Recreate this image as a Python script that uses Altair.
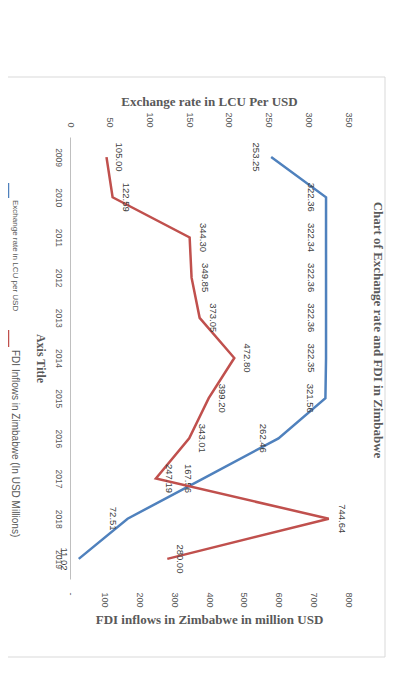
import altair as alt
import pandas as pd

years = [2009, 2010, 2011, 2012, 2013, 2014, 2015, 2016, 2017, 2018, 2019]
exchange_rate = [253.25, 322.36, 322.34, 322.36, 322.36, 322.35, 321.56, 262.46, 167.56, 72.51, 11.02]
fdi_inflows = [105.00, 122.59, 344.30, 349.85, 373.05, 472.80, 399.20, 343.01, 247.19, 744.64, 280.00]
exchange_ticks = [0, 50, 100, 150, 200, 250, 300, 350]
fdi_ticks = [0, 100, 200, 300, 400, 500, 600, 700, 800]

series_names = ["Exchange rate in LCU per USD", "FDI Inflows in Zimbabwe (In USD Millions)"]
series_colors = ["#4F81BD", "#C0504D"]
chart_title = "Chart of Exchange rate and FDI in Zimbabwe"
left_axis_title = "Exchange rate in LCU Per USD"
right_axis_title = "FDI inflows in Zimbabwe in million USD"
category_axis_title = "Axis Title"

df = pd.DataFrame({
    "year": [str(y) for y in years],
    "exchange": exchange_rate,
    "fdi": fdi_inflows,
})

W, H = 278, 442
SERIF = "Liberation Serif"
SANS = "Liberation Sans"
GRAY = "#595959"
LABEL = "#404040"

y_enc = alt.Y(
    "year:O", sort=None, scale=alt.Scale(padding=0.5),
    axis=alt.Axis(
        title=category_axis_title, labelAngle=90, labelAlign="center", labelBaseline="top",
        labelPadding=8, labelFont=SANS, labelFontSize=8.5, labelColor=GRAY,
        ticks=False, tickSize=0, domainColor="#BFBFBF", domainWidth=1, grid=False,
        titleAngle=90, titleX=-30, titleY=H / 2, titleAlign="center", titleBaseline="middle",
        titleFont=SERIF, titleFontSize=12, titleFontWeight="bold", titleColor=GRAY,
    ),
)

top_axis = alt.Axis(
    orient="top", values=exchange_ticks, labelAngle=90, labelAlign="right",
    labelBaseline="middle", labelPadding=10, labelFont=SANS, labelFontSize=9,
    labelColor=GRAY, labelFlush=False, ticks=False, tickSize=0, domain=False, grid=False,
    title=left_axis_title, titleFont=SERIF, titleFontSize=13, titleFontWeight="bold",
    titleColor=GRAY, titleX=W / 2, titleY=-36, titleAlign="center",
    titleBaseline="middle", titleAngle=0,
)
bottom_axis = alt.Axis(
    orient="bottom", values=fdi_ticks, labelAngle=90, labelAlign="left",
    labelBaseline="middle", labelPadding=13, labelFont=SANS, labelFontSize=9,
    labelColor=GRAY, labelFlush=False, labelExpr="datum.value == 0 ? '-' : datum.label",
    ticks=False, tickSize=0, domain=False, grid=False,
    title=right_axis_title, titleFont=SERIF, titleFontSize=13, titleFontWeight="bold",
    titleColor=GRAY, titleX=W / 2, titleY=40, titleAlign="center",
    titleBaseline="middle", titleAngle=0,
)

x_ex = alt.X("exchange:Q", scale=alt.Scale(domain=[0, 350], nice=False, zero=True), axis=top_axis)
x_fdi = alt.X("fdi:Q", scale=alt.Scale(domain=[0, 800], nice=False, zero=True), axis=bottom_axis)
order = alt.Order("year:O")

base = alt.Chart(df)

blue = alt.layer(
    base.mark_line(color=series_colors[0], strokeWidth=2.5).encode(x=x_ex, y=y_enc, order=order),
    base.mark_text(angle=90, dy=15, align="center", baseline="middle", font=SANS,
                   fontSize=9.5, color=LABEL).encode(
        x=x_ex, y=y_enc, text=alt.Text("exchange:Q", format=".2f")),
)
red = alt.layer(
    base.mark_line(color=series_colors[1], strokeWidth=2.5).encode(x=x_fdi, y=y_enc, order=order),
    base.mark_text(angle=90, dy=-13, align="center", baseline="middle", font=SANS,
                   fontSize=9.5, color=LABEL).encode(
        x=x_fdi, y=y_enc, text=alt.Text("fdi:Q", format=".2f")),
)

one = pd.DataFrame({"k": [0]})
annot = alt.Chart(one)

border = annot.mark_rect(filled=False, stroke="#D9D9D9", strokeWidth=1).encode(
    x=alt.value(-80), x2=alt.value(315), y=alt.value(-60), y2=alt.value(520))

title_txt = annot.mark_text(angle=90, align="center", baseline="middle", font=SERIF,
                            fontSize=13, fontWeight="bold", color=GRAY).encode(
    x=alt.value(308), y=alt.value(193), text=alt.value(chart_title))

leg_blue_rule = annot.mark_rule(color=series_colors[0], strokeWidth=2.5).encode(
    x=alt.value(-62), y=alt.value(46), y2=alt.value(61))
leg_blue_txt = annot.mark_text(angle=90, align="left", baseline="middle", font=SANS,
                               fontSize=8, color=GRAY).encode(
    x=alt.value(-55), y=alt.value(63), text=alt.value(series_names[0]))
leg_red_rule = annot.mark_rule(color=series_colors[1], strokeWidth=2.5).encode(
    x=alt.value(-62), y=alt.value(193), y2=alt.value(210))
leg_red_txt = annot.mark_text(angle=90, align="left", baseline="middle", font=SANS,
                              fontSize=10, color=GRAY).encode(
    x=alt.value(-55), y=alt.value(213), text=alt.value(series_names[1]))

chart = alt.layer(
    border, blue, red, title_txt, leg_blue_rule, leg_blue_txt, leg_red_rule, leg_red_txt
).resolve_scale(x="independent").resolve_axis(x="independent").properties(
    width=W, height=H,
    padding={"left": 62, "top": 129, "right": 38, "bottom": 80},
    autosize=alt.AutoSizeParams(type="none"),
    background="white",
).configure_view(stroke=None)

chart.save("out.html", embed_options={"renderer": "svg", "actions": False})
